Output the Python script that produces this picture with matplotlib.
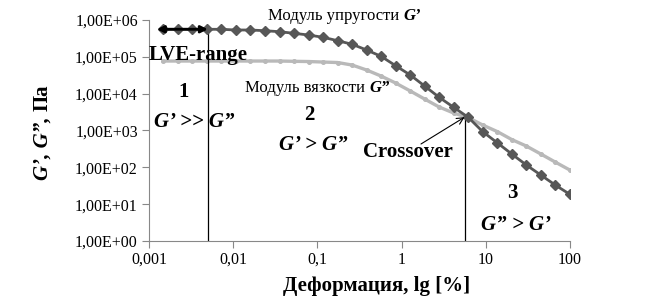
import matplotlib
matplotlib.use("Agg")
import matplotlib.pyplot as plt
from matplotlib.ticker import FixedLocator, FixedFormatter, NullLocator

plt.rcParams["font.family"] = ["Liberation Serif", "DejaVu Serif"]

# strain, %
strain = [0.00148, 0.0022, 0.00327, 0.00487, 0.00724, 0.0108, 0.016, 0.0238,
          0.0355, 0.0528, 0.0785, 0.117, 0.174, 0.259, 0.385, 0.572, 0.851,
          1.27, 1.88, 2.80, 4.17, 6.20, 9.23, 13.7, 20.4, 30.4, 45.2, 67.2, 100]
# storage modulus G', Pa
g_storage = [5.59e5, 5.59e5, 5.59e5, 5.59e5, 5.59e5, 5.35e5, 5.35e5, 5.12e5,
             4.81e5, 4.35e5, 3.91e5, 3.39e5, 2.74e5, 2.19e5, 1.53e5, 1.03e5,
             5.73e4, 3.20e4, 1.61e4, 7.93e3, 4.24e3, 2.27e3, 923, 463, 229,
             115, 61.4, 32.8, 18.4]
# loss modulus G'', Pa
g_loss = [7.69e4, 7.69e4, 7.69e4, 7.69e4, 7.69e4, 7.69e4, 7.69e4, 7.69e4,
          7.69e4, 7.55e4, 7.45e4, 7.22e4, 7.0e4, 5.98e4, 4.38e4, 3.0e4,
          1.94e4, 1.18e4, 7.13e3, 4.33e3, 2.97e3, 2.24e3, 1.40e3, 934, 566,
          377, 229, 138, 84]

x_ticks = [0.001, 0.01, 0.1, 1, 10, 100]
x_tick_labels = ["0,001", "0,01", "0,1", "1", "10", "100"]
y_ticks = [1e0, 1e1, 1e2, 1e3, 1e4, 1e5, 1e6]
y_tick_labels = ["1,00E+00", "1,00E+01", "1,00E+02", "1,00E+03",
                 "1,00E+04", "1,00E+05", "1,00E+06"]

LVE_LIMIT = 0.005          # end of linear viscoelastic range, %
LVE_START = 0.00124
LVE_LEVEL = 5.6e5
CROSSOVER = (5.6, 2.3e3)   # G' = G''
CROSS_ARROW_TAIL = (1.70, 430)

DARK = "#575757"
LIGHT = "#b9b9b9"
BOLD = dict(fontweight="bold")
BOLD_IT = dict(fontweight="bold", fontstyle="italic")


def main():
    fig = plt.figure(figsize=(6.59, 2.98), dpi=100)
    ax = fig.add_axes([0.2261, 0.1913, 0.6388, 0.7416])

    ax.plot(strain, g_loss, color=LIGHT, lw=2.4, marker="o", ms=2.6, zorder=2)
    ax.plot(strain, g_storage, color=DARK, lw=2.0, marker="D", ms=5.4, zorder=3)

    ax.set_xscale("log")
    ax.set_yscale("log")
    ax.set_xlim(x_ticks[0], x_ticks[-1])
    ax.set_ylim(y_ticks[0], y_ticks[-1])
    ax.xaxis.set_major_locator(FixedLocator(x_ticks))
    ax.xaxis.set_major_formatter(FixedFormatter(x_tick_labels))
    ax.yaxis.set_major_locator(FixedLocator(y_ticks))
    ax.yaxis.set_major_formatter(FixedFormatter(y_tick_labels))
    ax.xaxis.set_minor_locator(NullLocator())
    ax.yaxis.set_minor_locator(NullLocator())
    ax.tick_params(labelsize=11.5, length=5, width=0.8, color="#888888", pad=3)
    for side in ("top", "right"):
        ax.spines[side].set_visible(False)
    for side in ("left", "bottom"):
        ax.spines[side].set_color("#888888")
        ax.spines[side].set_linewidth(0.8)

    # LVE range: boundary and double arrow
    ax.plot([LVE_LIMIT, LVE_LIMIT], [y_ticks[0], LVE_LEVEL * 1.25], color="black", lw=0.9)
    ax.annotate("", xy=(LVE_START, LVE_LEVEL), xytext=(LVE_LIMIT, LVE_LEVEL),
                arrowprops=dict(arrowstyle="<|-|>", color="black", lw=2.0,
                                mutation_scale=10, shrinkA=0, shrinkB=0))

    # crossover
    ax.plot([CROSSOVER[0], CROSSOVER[0]], [y_ticks[0], CROSSOVER[1]], color="black", lw=0.9)
    ax.annotate("", xy=CROSSOVER, xytext=CROSS_ARROW_TAIL,
                arrowprops=dict(arrowstyle="->", color="black", lw=0.8,
                                shrinkA=0, shrinkB=0, mutation_scale=12))

    tr = ax.transAxes
    ax.text(0.615, 0.38, "Crossover", transform=tr, ha="center", va="baseline", fontsize=15, **BOLD)
    ax.text(0.116, 0.819, "LVE-range", transform=tr, ha="center", va="baseline", fontsize=15, **BOLD)
    ax.text(0.081, 0.652, "1", transform=tr, ha="center", va="baseline", fontsize=15, **BOLD)
    ax.text(0.107, 0.516, "G’ >> G”", transform=tr, ha="center", va="baseline", fontsize=15, **BOLD_IT)
    ax.text(0.382, 0.548, "2", transform=tr, ha="center", va="baseline", fontsize=15, **BOLD)
    ax.text(0.39, 0.41, "G’ > G”", transform=tr, ha="center", va="baseline", fontsize=15, **BOLD_IT)
    ax.text(0.862, 0.195, "3", transform=tr, ha="center", va="baseline", fontsize=15, **BOLD)
    ax.text(0.872, 0.05, "G” > G’", transform=tr, ha="center", va="baseline", fontsize=15, **BOLD_IT)

    t1 = ax.text(0.283, 0.982, "Модуль упругости ", transform=tr, ha="left", va="bottom", fontsize=12)
    ax.annotate("G’", xy=(1, 0), xycoords=t1, ha="left", va="bottom", fontsize=12, **BOLD_IT)
    t2 = ax.text(0.228, 0.656, "Модуль вязкости ", transform=tr, ha="left", va="bottom", fontsize=12)
    ax.annotate("G”", xy=(1, 0), xycoords=t2, ha="left", va="bottom", fontsize=12, **BOLD_IT)

    # axis titles
    fig.text(0.571, 0.023, "Деформация, lg [%]", ha="center", va="baseline", fontsize=15, **BOLD)
    yl = fig.text(0.064, 0.396, "G’, G”, ", rotation=90, ha="center", va="bottom",
                  fontsize=15, **BOLD_IT)
    ax.annotate("Па", xy=(0.5, 1), xycoords=yl, rotation=90, ha="center", va="bottom",
                fontsize=15, **BOLD)

    fig.savefig("out.png", dpi=100)


if __name__ == "__main__":
    main()
